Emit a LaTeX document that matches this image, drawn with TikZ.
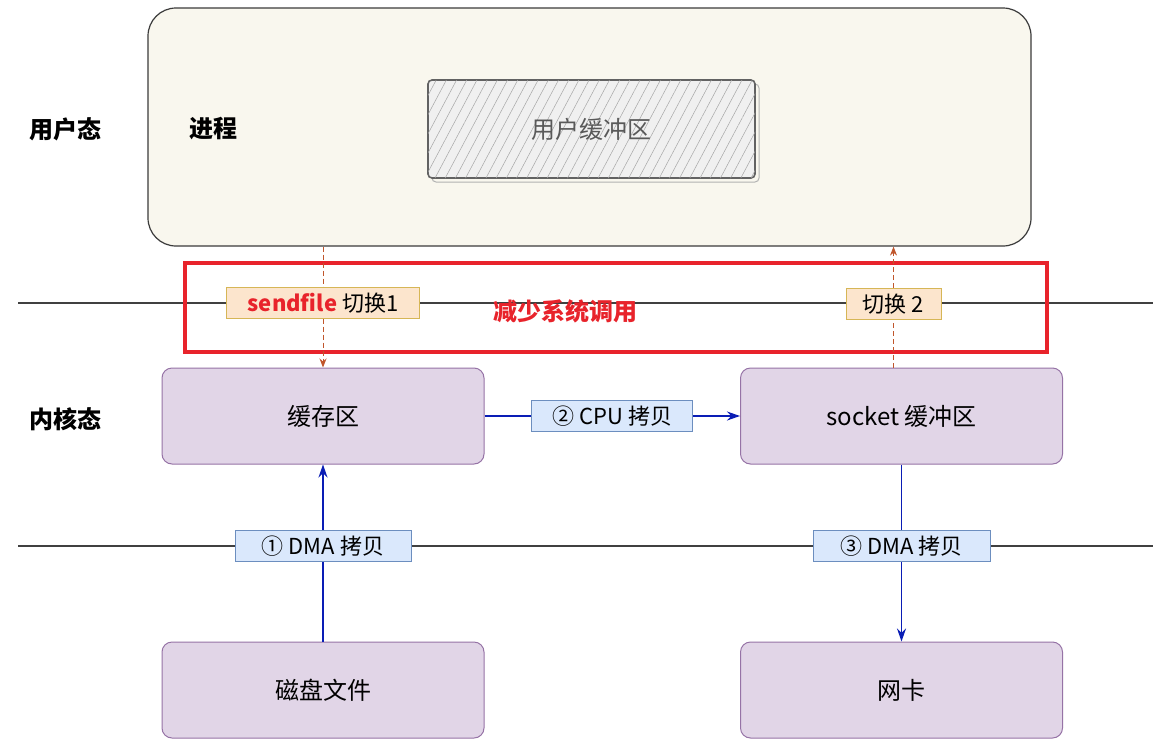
\documentclass[tikz,border=0pt]{standalone}
\usepackage{fontspec}
\setmainfont{Noto Sans CJK SC}
\usepackage{xcolor}
\definecolor{procFill}{HTML}{F9F7EE}
\definecolor{procLine}{HTML}{3B3B3B}
\definecolor{kernFill}{HTML}{E1D5E7}
\definecolor{kernLine}{HTML}{9673A6}
\definecolor{copyFill}{HTML}{DAE8FC}
\definecolor{copyLine}{HTML}{6C8EBF}
\definecolor{copyArrow}{HTML}{0A1DB5}
\definecolor{switchFill}{HTML}{FCE5CD}
\definecolor{switchLine}{HTML}{D6B656}
\definecolor{switchArrow}{HTML}{C0562C}
\definecolor{alertRed}{HTML}{E8232B}
\usetikzlibrary{arrows.meta,patterns.meta}

\tikzset{
  procbox/.style={draw=procLine, fill=procFill, rounded corners=28pt, line width=1.2pt},
  bufbox/.style={draw=procLine!80, fill=gray!12, rounded corners=4pt, line width=1.6pt,
    postaction={pattern={Lines[angle=62, distance=9pt, line width=0.5pt]}, pattern color=gray!70},
    text=black!65, font=\fontsize{24}{28}\selectfont},
  kernbox/.style={draw=kernLine, fill=kernFill, rounded corners=10pt, line width=1pt,
    minimum width=322pt, minimum height=96pt, font=\fontsize{24}{28}\selectfont},
  modelabel/.style={font=\fontsize{24}{28}\selectfont\bfseries},
  copytag/.style={draw=copyLine, fill=copyFill, line width=1pt, minimum height=31pt,
    inner ysep=0pt, inner xsep=6pt, font=\fontsize{22}{26}\selectfont},
  switchtag/.style={draw=switchLine, fill=switchFill, line width=1pt, solid, minimum height=31pt,
    inner ysep=0pt, inner xsep=6pt, font=\fontsize{22}{26}\selectfont},
  copyarrow/.style={draw=copyArrow, line width=1.2pt, -{Stealth[length=13pt, width=9pt]}},
  switcharrow/.style={draw=switchArrow, line width=1pt, dash pattern=on 5pt off 3pt,
    -{Stealth[length=9pt, width=7pt]}},
}

\begin{document}
\begin{tikzpicture}[x=1pt, y=-1pt]
  \filldraw[fill=white, draw=none] (0,0) rectangle (1153,747);
  \useasboundingbox (0,0) rectangle (1153,747);

  % user space
  \node[procbox, minimum width=883pt, minimum height=238pt] (proc) at (589.5,127) {};
  \draw[gray!60, line width=1pt, rounded corners=4pt] (432,84) rectangle (759,182);
  \node[bufbox, minimum width=327pt, minimum height=98pt] (ubuf) at (591.5,129) {用户缓冲区};
  \node[modelabel] (procname) at (213,129) {进程};
  \node[modelabel] (usermode) at (65,129) {用户态};
  \node[modelabel] (kernmode) at (65,419) {内核态};

  % boundary lines
  \draw[black!75, line width=1.2pt] (18,303) -- (1153,303);
  \draw[black!75, line width=1.2pt] (18,546) -- (1153,546);

  % kernel boxes
  \node[kernbox] (cache) at (323,416) {缓存区};
  \node[kernbox] (socket) at (901.5,416) {socket 缓冲区};
  \node[kernbox] (disk) at (323,690) {磁盘文件};
  \node[kernbox] (nic) at (901.5,690) {网卡};

  % syscall frame
  \node[draw=alertRed, line width=4pt, minimum width=862pt, minimum height=89pt] (frame) at (616,307.5) {};
  \node[modelabel, text=alertRed] (reduce) at (565,311) {减少系统调用};

  % context switches
  \draw[switcharrow] (cache.north |- proc.south) -- node[switchtag, pos=0.47, minimum width=193pt]
    (switch1) {\textcolor{alertRed}{\bfseries sendfile} 切换1} (cache.north);
  \draw[switcharrow] ([xshift=-8pt]socket.north) -- node[switchtag, pos=0.525, minimum width=95pt]
    (switch2) {切换 2} ([xshift=-8pt]socket.north |- proc.south);

  % copies
  \draw[copyarrow] (disk) -- node[copytag, pos=0.54, minimum width=176pt] (dma1) {① DMA 拷贝} (cache);
  \draw[copyarrow] (cache) -- node[copytag, minimum width=161pt] (cpu) {② CPU 拷贝} (socket);
  \draw[copyarrow] (socket) -- node[copytag, pos=0.46, minimum width=177pt] (dma2) {③ DMA 拷贝} (nic);
\end{tikzpicture}
\end{document}
